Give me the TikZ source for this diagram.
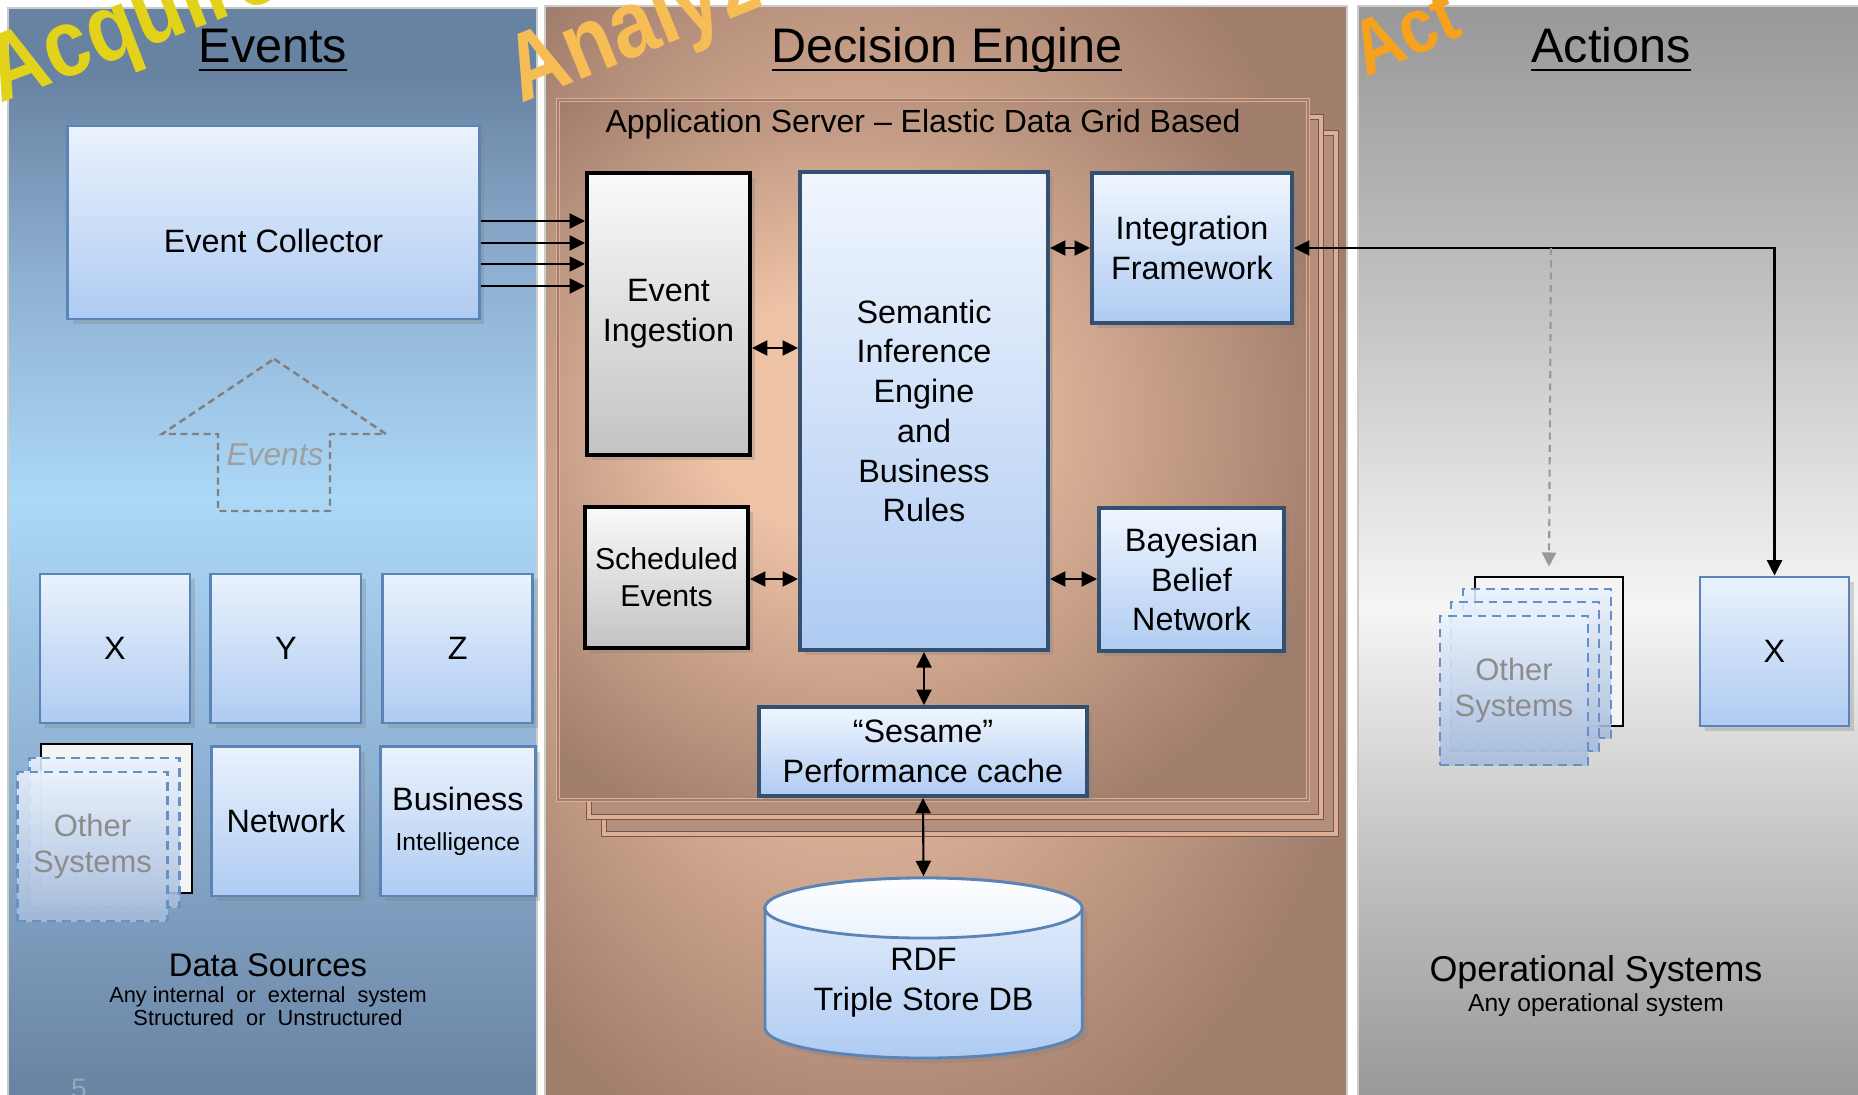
\documentclass[tikz,border=0pt]{standalone}
\usepackage{fontspec}
\setmainfont{Liberation Sans}
\newfontfamily\artfont[FakeStretch=0.86]{Liberation Sans}
\usepackage{tikz}
\usetikzlibrary{
	positioning,
	arrows.meta,
	shadows
}

\definecolor{leftdark}{HTML}{6882A1}
\definecolor{leftmid}{HTML}{8FB1D3}
\definecolor{leftlight}{HTML}{ACD8F8}
\definecolor{middark}{HTML}{A27E6D}
\definecolor{midlight}{HTML}{EFC3A6}
\definecolor{rightdark}{HTML}{989898}
\definecolor{rightmid}{HTML}{C2C2C2}
\definecolor{rightlight}{HTML}{F5F5F5}
\definecolor{boxtop}{HTML}{EAF2FD}
\definecolor{boxbot}{HTML}{AFCBF2}
\definecolor{boxline}{HTML}{5B84B6}
\definecolor{bevline}{HTML}{34506E}
\definecolor{greytop}{HTML}{FAFAFA}
\definecolor{greybot}{HTML}{C3C3C3}
\definecolor{dashline}{HTML}{6790C4}
\definecolor{ghost}{HTML}{8C8C8C}
\definecolor{acqcol}{HTML}{E3D21A}
\definecolor{anacol}{HTML}{F7BD55}
\definecolor{actcol}{HTML}{F6A21E}
\definecolor{srvline}{HTML}{DDAE94}

\pgfdeclareverticalshading{bluepanel}{100bp}{color(0bp)=(leftdark); color(25bp)=(leftdark); color(40bp)=(leftmid); color(52.5bp)=(leftlight); color(62.5bp)=(leftmid); color(72bp)=(leftdark); color(100bp)=(leftdark)}
\pgfdeclareradialshading{brownpanel}{\pgfpoint{-8bp}{3bp}}{color(0bp)=(midlight); color(8bp)=(midlight); color(31bp)=(middark); color(60bp)=(middark)}
\pgfdeclareverticalshading{greypanel}{100bp}{color(0bp)=(rightdark); color(25bp)=(rightdark); color(36bp)=(rightmid); color(47.5bp)=(rightlight); color(61.5bp)=(rightmid); color(75bp)=(rightdark); color(100bp)=(rightdark)}

\newcommand{\titleul}[1]{\setbox0\hbox{#1}\rlap{\rule[-2.4pt]{\wd0}{0.8pt}}\box0}

\tikzset{
	paneltitle/.style={font=\fontsize{13.8}{16}\selectfont, anchor=base},
	boxtext/.style={font=\fontsize{9.2}{11.3}\selectfont, align=center},
	softshadow/.style={drop shadow={opacity=0.3, shadow xshift=1.5pt, shadow yshift=-1.5pt}},
	srcbox/.style={rectangle, draw=boxline, line width=0.8pt, top color=boxtop, bottom color=boxbot, softshadow, boxtext},
	bevbox/.style={rectangle, draw=bevline, line width=1.1pt, top color=boxtop!70!white, bottom color=boxbot, softshadow, boxtext},
	greybox/.style={rectangle, draw=black, line width=1.1pt, top color=greytop, bottom color=greybot, softshadow, boxtext},
	ghostbox/.style={rectangle, draw=dashline, dash pattern=on 2.5pt off 1.7pt, line width=0.6pt, top color=boxtop, bottom color=boxbot!80!gray, fill opacity=0.88, text opacity=1, text=ghost, font=\fontsize{8.8}{10.2}\selectfont, align=center},
	backbox/.style={rectangle, draw=black, line width=0.8pt, fill=greytop!95!gray},
	srvback/.style={fill=middark!75!midlight, draw=middark!70!black, double=srvline, double distance=1.2pt, line width=0.3pt},
	onearrow/.style={line width=0.6pt, -{Triangle[length=4.4pt,width=4.3pt]}},
	twoarrow/.style={line width=0.6pt, {Triangle[length=4.4pt,width=4.3pt]}-{Triangle[length=4.4pt,width=4.3pt]}},
	ghostarrow/.style={line width=0.6pt, draw=gray!80, dash pattern=on 2pt off 1.5pt, -{Triangle[length=4pt,width=4pt,fill=gray!80]}},
	wordart/.style={font=\fontsize{27}{27}\selectfont\artfont\bfseries, inner sep=0pt, anchor=base west}
}

\begin{document}
\begin{tikzpicture}[x=0.01cm, y=-0.01cm]
	\clip (0,0) rectangle (1858,1094);
	\fill[white] (0,0) rectangle (1858,1094);

	\shade[shading=bluepanel, draw=gray!40] (8,8) rectangle (537,1100);
	\shade[shading=brownpanel, draw=gray!40] (545,6) rectangle (1347,1100);
	\shade[shading=greypanel, draw=gray!40] (1358,6) rectangle (1870,1100);

	\node[wordart, text=acqcol, rotate=21] (acquire) at (0,104) {Acquire};
	\node[wordart, text=anacol, rotate=22] (analyze) at (521,104) {Analyze};
	\node[wordart, text=actcol, rotate=24, font=\fontsize{22}{22}\selectfont\artfont\bfseries] (act) at (1366,78) {Act};

	\node[paneltitle] (evtitle) at (273,63) {\titleul{Events}};
	\node[paneltitle] (detitle) at (947,63) {\titleul{Decision Engine}};
	\node[paneltitle] (actitle) at (1611,63) {\titleul{Actions}};

	\node[srcbox, minimum width=4.11cm, minimum height=1.93cm, text height=0.6cm, text depth=0cm] (ec) at (273.5,222.5) {Event Collector};

	\draw[draw=gray, line width=0.7pt, dash pattern=on 2pt off 1.3pt] (274,359) -- (386,434) -- (330,434) -- (330,511) -- (218,511) -- (218,434) -- (162,434) -- cycle;
	\node[text=gray!75, font=\fontsize{9}{10}\selectfont\itshape] (evarrow) at (275,455) {Events};

	\node[srcbox, minimum width=1.5cm, minimum height=1.49cm] (x) at (115,648.5) {X};
	\node[srcbox, minimum width=1.5cm, minimum height=1.49cm, right=0.18cm of x] (y) {Y};
	\node[srcbox, minimum width=1.5cm, minimum height=1.49cm, right=0.19cm of y] (z) {Z};
	\node[srcbox, minimum width=1.48cm, minimum height=1.49cm, below=0.21cm of y] (net) {Network};
	\node[srcbox, minimum width=1.49cm, minimum height=1.49cm, below=0.21cm of z] (bi) {Business\\{\fontsize{7}{9}\selectfont Intelligence}};

	\node[backbox, minimum width=1.51cm, minimum height=1.49cm] (othl) at (116.5,818.5) {};
	\node[ghostbox, minimum width=1.5cm, minimum height=1.49cm] (othla) at ([shift={(-12,14)}]othl.center) {};
	\node[ghostbox, minimum width=1.5cm, minimum height=1.49cm] (othlb) at ([shift={(-24,28)}]othl.center) {Other\\Systems};

	\node[font=\fontsize{9.3}{10}\selectfont] (dstitle) at (268,965) {Data Sources};
	\node[font=\fontsize{6.2}{6.4}\selectfont, align=center] (dstext) at (268,1006) {Any internal\ \ or\ \ external\ \ system\\Structured\ \ or\ \ Unstructured};
	\node[text=leftdark!70!white, font=\fontsize{8}{9}\selectfont] (pagenum) at (79,1089) {5};

	\draw[srvback] (604,133) rectangle (1336,834);
	\draw[srvback] (589,117) rectangle (1321,817);
	\shade[shading=brownpanel, draw=srvline, line width=1.4pt] (558,100) rectangle (1308,800);
	\draw[draw=middark, line width=0.3pt] (558,100) rectangle (1308,800);
	\node[font=\fontsize{9.1}{10}\selectfont] (appsrv) at (923,124) {Application Server -- Elastic Data Grid Based};

	\node[greybox, minimum width=1.63cm, minimum height=2.82cm] (ei) at (668.5,314) {Event\\Ingestion};
	\node[greybox, minimum width=1.63cm, minimum height=1.41cm, inner xsep=1pt, font=\fontsize{8.6}{10.6}\selectfont] (se) at (666.5,577.5) {Scheduled\\Events};
	\node[bevbox, minimum width=2.48cm, minimum height=4.78cm] (sie) at (924,411) {Semantic\\Inference\\Engine\\and\\Business\\Rules};
	\node[bevbox, minimum width=2.0cm, minimum height=1.5cm] (ifw) at (1192,248) {Integration\\Framework};
	\node[bevbox, minimum width=1.85cm, minimum height=1.43cm] (bbn) at (1191.5,579.5) {Bayesian\\Belief\\Network};
	\node[bevbox, minimum width=3.28cm, minimum height=0.89cm] (ses) at (923,751.5) {``Sesame''\\Performance cache};

	\draw[draw=boxline, line width=0.8pt, top color=boxtop, bottom color=boxbot, softshadow] (765,908) -- (765,1028) arc[start angle=180, end angle=360, x radius=1.585cm, y radius=0.3cm] -- (1082,908) arc[start angle=0, end angle=180, x radius=1.585cm, y radius=0.3cm] -- cycle;
	\draw[draw=boxline, line width=0.8pt, top color=white, bottom color=boxtop] (923.5,908) ellipse[x radius=1.585cm, y radius=0.3cm];
	\node[boxtext, minimum width=3.17cm, minimum height=0.9cm] (db) at (923.5,983) {RDF\\Triple Store DB};

	\foreach \yy in {221,243,264,286}
		\draw[onearrow] (ec.east |- 0,\yy) -- (ei.west |- 0,\yy);
	\draw[twoarrow] (ei.east |- 0,348) -- (sie.west |- 0,348);
	\draw[twoarrow] (se.east |- 0,579) -- (sie.west |- 0,579);
	\draw[twoarrow] (sie.east |- ifw.west) -- (ifw.west);
	\draw[twoarrow] (sie.east |- 0,579) -- (bbn.west |- 0,579);
	\draw[twoarrow] (sie.south) -- (sie.south |- ses.north);
	\draw[twoarrow] (ses.south) -- ([yshift=0.6cm]db.north);

	\node[backbox, minimum width=1.48cm, minimum height=1.49cm] (othr) at (1549,651.5) {};
	\node[ghostbox, minimum width=1.48cm, minimum height=1.49cm] (othra) at ([shift={(-12,12)}]othr.center) {};
	\node[ghostbox, minimum width=1.48cm, minimum height=1.49cm] (othrb) at ([shift={(-24,25)}]othr.center) {};
	\node[ghostbox, minimum width=1.48cm, minimum height=1.49cm] (othrc) at ([shift={(-35,39)}]othr.center) {Other\\Systems};
	\node[srcbox, minimum width=1.49cm, minimum height=1.49cm] (xr) at (1774.5,651.5) {X};

	\coordinate (split) at (1551,248);
	\draw[twoarrow] (ifw.east) -| (xr.north);
	\draw[ghostarrow] (split) -- ([yshift=0.09cm]othr.north);

	\node[font=\fontsize{10.2}{11}\selectfont] (ostitle) at (1596,972) {Operational Systems};
	\node[font=\fontsize{7}{8}\selectfont] (ostext) at (1596,1005) {Any operational system};
\end{tikzpicture}
\end{document}
